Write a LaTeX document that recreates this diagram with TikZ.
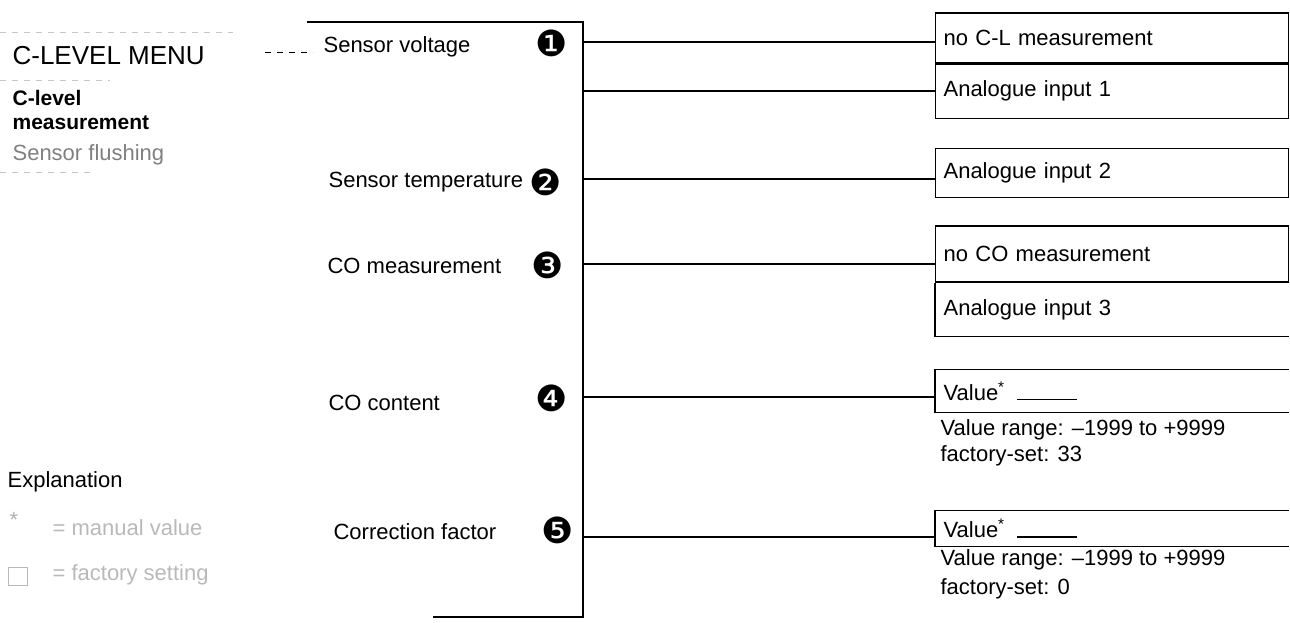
\documentclass[tikz,border=0pt]{standalone}
\usepackage{fontspec}
\setmainfont{Liberation Sans}
\newfontfamily\dingfont{DejaVu Sans}
\usetikzlibrary{positioning}

\begin{document}
\begin{tikzpicture}[x=0.5pt, y=-0.5pt, line width=0.6pt,
    lbl/.style={anchor=west, inner sep=0pt, font=\fontsize{11}{13}\selectfont},
    num/.style={inner sep=0pt, font=\dingfont\fontsize{18}{20}\selectfont},
    rbox/.style={draw, anchor=west, text width=168.5pt, inner xsep=4pt, inner ysep=0pt,
        align=left, font=\fontsize{11}{13}\selectfont},
    faint/.style={gray!45, line width=0.5pt, dashed}]
    \useasboundingbox (0,0) rectangle (1290,622);

    % Cột trái
    \node[lbl, font=\fontsize{13}{15}\selectfont] (title) at (12,56) {C-LEVEL MENU};
    \node[lbl, font=\bfseries\fontsize{10.5}{12}\selectfont, align=left] (clm) at (12,110) {C-level\\measurement};
    \node[lbl, text=gray] (sf) at (12,155) {Sensor flushing};
    \draw[faint] (0,32) -- (233,32);
    \draw[faint] (0,80) -- (110,80);
    \draw[faint] (0,172) -- (90,172);

    % Chú thích
    \node[lbl] (expl) at (7,482) {Explanation};
    \node[lbl, text=gray!60] (star) at (9,520) {*};
    \node[lbl, text=gray!55] (mv) at (52,528) {= manual value};
    \node[draw=gray!55, line width=0.5pt, minimum width=9.5pt, minimum height=9pt,
        inner sep=0pt, anchor=west] (sq) at (8,576) {};
    \node[lbl, text=gray!55] (fs) at (52,575) {= factory setting};

    % Khung giữa
    \foreach \n/\x/\y/\t in {sv/323/47/Sensor voltage, st/328/182/Sensor temperature,
        com/327/266/CO measurement, coc/328/403/CO content, cf/333/532/Correction factor} {
        \node[lbl] (\n) at (\x,\y) {\t};
    }
    \foreach \k/\c/\x/\y in {1/❶/552/43, 2/❷/546/182, 3/❸/548/265, 4/❹/552/398, 5/❺/558/530} {
        \node[num] (n\k) at (\x,\y) {\c};
    }
    \coordinate (mtl) at (307,22);
    \coordinate (mtr) at (583,22);
    \coordinate (mbr) at (583,617);
    \coordinate (mbl) at (433,617);
    \draw (mtl) -- (mtr) -- (mbr) -- (mbl);
    \coordinate (d0) at (265,52);
    \coordinate (d1) at (313,52);
    \draw[dashed, line width=0.5pt] (d0) -- (d1);

    % Các hộp bên phải
    \node[rbox, minimum height=25pt] (ncl) at (935,38) {no C-L measurement};
    \node[rbox, minimum height=27pt, below=0pt of ncl] (ai1) {Analogue input 1};
    \node[rbox, minimum height=24.5pt] (ai2) at (935,173) {Analogue input 2};
    \node[rbox, minimum height=28pt] (nco) at (935,254) {no CO measurement};
    \node[rbox, draw=none, minimum height=26.5pt, below=0pt of nco] (ai3) {Analogue input 3};
    \draw (ai3.north west) -- (ai3.south west) -- (ai3.south east);

    \node[rbox, draw=none, minimum height=21pt] (val4) at (935,391)
        {Value\textsuperscript{*}\hspace{6pt}\rule{30pt}{0.6pt}};
    \draw (val4.north east) -- (val4.north west) -- (val4.south west) -- (val4.south east);
    \node[lbl] (rng4) at (940,430) {Value range: –1999 to +9999};
    \node[lbl] (fac4) at (940,456) {factory-set: 33};

    \node[rbox, draw=none, minimum height=17.5pt] (val5) at (935,528.5)
        {Value\textsuperscript{*}\hspace{6pt}\rule{30pt}{0.6pt}};
    \draw (val5.north east) -- (val5.north west) -- (val5.south west) -- (val5.south east);
    \node[lbl] (rng5) at (940,560) {Value range: –1999 to +9999};
    \node[lbl] (fac5) at (940,589) {factory-set: 0};

    % Đường nối
    \coordinate (r1) at (583,42);
    \coordinate (r2) at (583,91);
    \coordinate (r3) at (583,179);
    \coordinate (r4) at (583,264);
    \coordinate (r5) at (583,397);
    \coordinate (r6) at (583,537);
    \foreach \r/\b in {r1/ncl, r2/ai1, r3/ai2, r4/nco, r5/val4, r6/val5} {
        \draw (\r) -- (\r -| \b.west);
    }
\end{tikzpicture}
\end{document}
